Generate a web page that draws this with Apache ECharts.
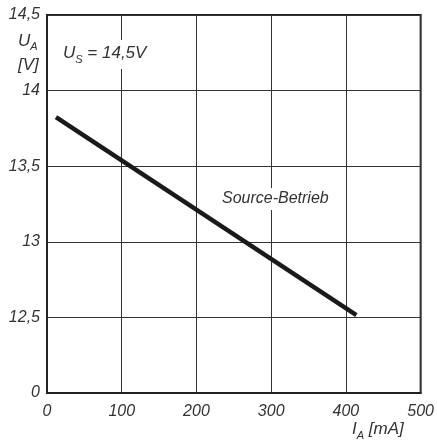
<!DOCTYPE html>
<html>
<head>
<meta charset="utf-8">
<script src="https://cdn.jsdelivr.net/npm/echarts@6/dist/echarts.min.js"></script>
<style>html,body{margin:0;padding:0;background:#fff}#c{width:437px;height:448px}</style>
</head>
<body>
<div id="c"></div>
<script>
// Data
const currentMA = [12, 414];            // I_A [mA]
const voltageV  = [13.825, 12.515];     // U_A [V]
const xTicks = [0, 100, 200, 300, 400, 500];
const yTickLabels = { '12': '0', '12.5': '12,5', '13': '13', '13.5': '13,5', '14': '14', '14.5': '14,5' };
const annotation1 = 'U_S = 14,5V';
const annotation2 = 'Source-Betrieb';

const FONT = '"Liberation Sans", Arial, sans-serif';
const TXT = '#333';

const chart = echarts.init(document.getElementById('c'), null, { renderer: 'canvas' });
const lineData = currentMA.map((x, i) => [x, voltageV[i]]);

chart.setOption({
  animation: false,
  backgroundColor: '#fff',
  grid: { left: 47, right: 12, top: 15, bottom: 55, show: true, borderColor: '#222', borderWidth: 2, backgroundColor: 'transparent' },
  xAxis: {
    type: 'value', min: xTicks[0], max: xTicks[xTicks.length - 1], interval: 100,
    axisLine: { show: true, lineStyle: { color: '#222', width: 2 } },
    axisTick: { show: false },
    splitLine: { show: true, lineStyle: { color: '#333', width: 1 } },
    axisLabel: { fontFamily: FONT, fontStyle: 'italic', fontSize: 16, color: TXT, margin: 11 }
  },
  yAxis: {
    type: 'value', min: 12, max: 14.5, interval: 0.5,
    axisLine: { show: true, lineStyle: { color: '#222', width: 2 } },
    axisTick: { show: false },
    splitLine: { show: true, lineStyle: { color: '#333', width: 1 } },
    axisLabel: {
      fontFamily: FONT, fontStyle: 'italic', fontSize: 16, color: TXT, margin: 7,
      formatter: v => yTickLabels[String(v)] || ''
    }
  },
  series: [{
    type: 'line', data: lineData, symbol: 'none', z: 5,
    lineStyle: { color: '#1a1a1a', width: 4.5 }
  }],
  graphic: [
    { type: 'text', left: 18, top: 33, z: 10,
      style: { text: '{u|U}{s|A}\n{u|[V]}', rich: {
        u: { fontFamily: FONT, fontStyle: 'italic', fontSize: 17, fill: TXT, lineHeight: 24 },
        s: { fontFamily: FONT, fontStyle: 'italic', fontSize: 11, fill: TXT, padding: [11, 0, 0, 0] }
      } } },
    { type: 'text', left: 352, top: 421, z: 10,
      style: { text: '{u|I}{s|A}{u| [mA]}', rich: {
        u: { fontFamily: FONT, fontStyle: 'italic', fontSize: 17, fill: TXT },
        s: { fontFamily: FONT, fontStyle: 'italic', fontSize: 11, fill: TXT, padding: [12, 0, 0, 0] }
      } } },
    { type: 'text', left: 62, top: 40, z: 10,
      style: { text: '{u|U}{s|S}{u| = 14,5V}', backgroundColor: '#fff', padding: [2, 1, 4, 1], rich: {
        u: { fontFamily: FONT, fontStyle: 'italic', fontSize: 17, fill: TXT },
        s: { fontFamily: FONT, fontStyle: 'italic', fontSize: 11, fill: TXT, padding: [12, 0, 0, 0] }
      } } },
    { type: 'text', left: 221, top: 188, z: 10,
      style: { text: annotation2, fontFamily: FONT, fontStyle: 'italic', fontSize: 16, fill: TXT, backgroundColor: '#fff', padding: [3, 1, 3, 1] } }
  ]
});
</script>
</body>
</html>
